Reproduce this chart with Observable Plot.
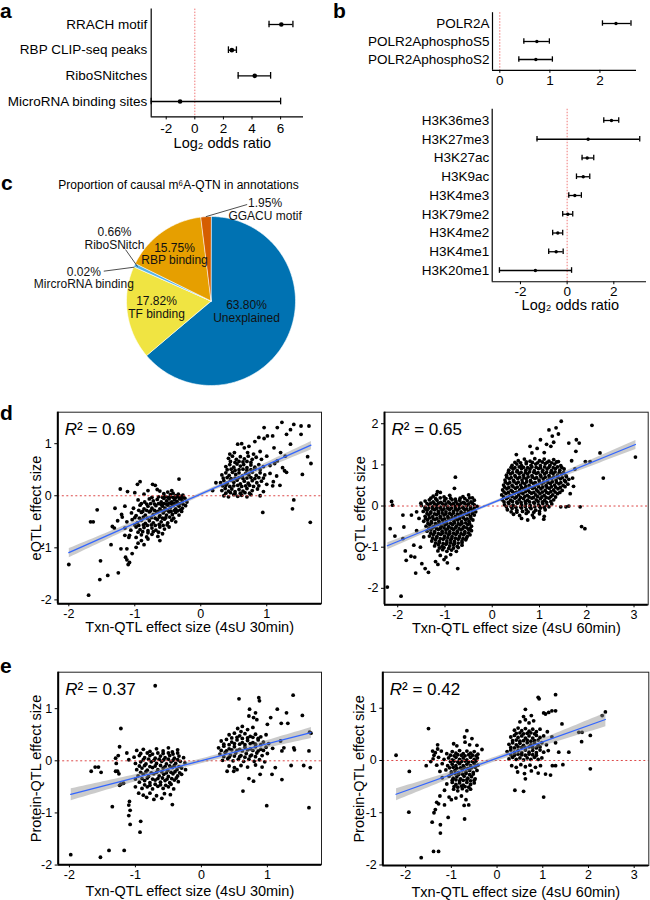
<!DOCTYPE html>
<html><head><meta charset="utf-8">
<script src="https://cdn.jsdelivr.net/npm/d3@7"></script>
<script src="https://cdn.jsdelivr.net/npm/@observablehq/plot@0.6"></script>
<style>
body{margin:0;background:#fff;}
#fig{position:relative;width:650px;height:900px;overflow:hidden;font-family:"Liberation Sans",Arial,sans-serif;}
.p{position:absolute;}
.lt{position:absolute;font-weight:bold;font-size:21px;line-height:21px;color:#000;}
</style></head><body><div id="fig"></div>
<script>
// ---------------- DATA ----------------
const aLabels = ["RRACH motif","RBP CLIP-seq peaks","RiboSNitches","MicroRNA binding sites"];
const aEst  = [6.05, 2.59, 4.19, -1.03];
const aLow  = [5.19, 2.35, 3.03, -3.05];
const aHigh = [6.86, 2.91, 5.30, 6.00];

const bPolLabels = ["POLR2A","POLR2AphosphoS5","POLR2AphosphoS2"];
const bPolEst  = [2.32, 0.74, 0.72];
const bPolLow  = [2.05, 0.48, 0.38];
const bPolHigh = [2.62, 0.99, 1.05];

const bHisLabels = ["H3K36me3","H3K27me3","H3K27ac","H3K9ac","H3K4me3","H3K79me2","H3K4me2","H3K4me1","H3K20me1"];
const bHisEst  = [1.90, 0.90, 0.86, 0.69, 0.33, 0.03, -0.40, -0.47, -1.36];
const bHisLow  = [1.57, -1.29, 0.64, 0.40, 0.07, -0.19, -0.62, -0.79, -2.90];
const bHisHigh = [2.21, 3.11, 1.14, 0.97, 0.61, 0.24, -0.19, -0.17, 0.19];

const pieTitle = "Proportion of causal m\u2076A-QTN in annotations";
const pieLabels = ["Unexplained","TF binding","MircroRNA binding","RiboSNitch","RBP binding","GGACU motif"];
const piePct = [63.80, 17.82, 0.02, 0.66, 15.75, 1.95];

const r2Values = {dLeft: "0.69", dRight: "0.65", eLeft: "0.37", eRight: "0.42"};

const dLeftPts = [
[-2.0,-1.32],[-1.7,-1.91],[-1.53,-1.61],[-1.41,-1.53],[-1.25,-1.48],[-1.52,-1.25],[-1.67,-0.5],[-1.63,-0.5],[-1.57,-0.27],[-1.36,-0.94],[-1.21,-1.02],[-1.22,0.13],[-1.11,0.08],[-0.92,0.27],[-0.96,0.22],[-0.73,0.22],[-0.69,0.2],[-0.33,0.32],
[-1.3,-0.24],[-1.26,-0.48],[-1.34,-0.59],[-1.19,-0.41],[-1.31,-0.62],[-1.15,-0.76],[-1.09,-0.8],[-0.98,-0.99],[-1.04,-1.11],[-1.12,-1.02],[-1.14,-1.18],[-1.12,-1.23],[-1.1,-1.32],[-1.08,-1.28],[-0.95,-0.91],[-0.9,-0.86],[-0.86,-0.94],[-0.8,-0.83],[-0.62,-0.86],
[-1.0,0.06],[-0.86,0.03],[-0.8,0.1],[-0.62,0.09],[-0.56,0.04],[-0.5,0.07],[-0.46,0.02],[-0.42,0.05],[-0.38,0.0],[-0.34,0.03],[-0.3,-0.01],[-0.27,0.01],[-0.66,0.12],[-0.44,0.1],
[-0.95,-0.08],[-0.85,-0.12],[-0.78,-0.06],[-0.72,-0.1],[-0.66,-0.07],[-0.6,-0.12],[-0.56,-0.05],[-0.52,-0.1],[-0.48,-0.06],[-0.44,-0.12],[-0.4,-0.08],[-0.36,-0.11],[-0.32,-0.06],[-0.28,-0.1],[-0.24,-0.05],[-0.21,-0.12],
[-1.15,-0.2],[-1.02,-0.24],[-0.92,-0.18],[-0.86,-0.25],[-0.8,-0.2],[-0.74,-0.24],[-0.68,-0.19],[-0.62,-0.25],[-0.58,-0.2],[-0.54,-0.24],[-0.5,-0.18],[-0.46,-0.23],[-0.42,-0.19],[-0.38,-0.25],[-0.33,-0.2],[-0.28,-0.24],[-0.23,-0.19],
[-1.2,-0.36],[-1.05,-0.33],[-0.98,-0.38],[-0.9,-0.32],[-0.84,-0.37],[-0.78,-0.31],[-0.72,-0.36],[-0.67,-0.32],[-0.62,-0.38],[-0.57,-0.33],[-0.52,-0.37],[-0.48,-0.31],[-0.43,-0.36],[-0.38,-0.32],[-0.33,-0.37],[-0.29,-0.3],
[-1.12,-0.5],[-1.04,-0.46],[-0.96,-0.52],[-0.9,-0.47],[-0.84,-0.53],[-0.78,-0.48],[-0.72,-0.52],[-0.66,-0.46],[-0.6,-0.5],[-0.55,-0.45],[-0.5,-0.52],[-0.44,-0.47],[-0.38,-0.5],
[-1.15,-0.62],[-1.06,-0.66],[-0.98,-0.6],[-0.92,-0.65],[-0.86,-0.61],[-0.8,-0.67],[-0.74,-0.62],[-0.68,-0.66],[-0.62,-0.6],[-0.55,-0.64],[-0.48,-0.6],
[-1.08,-0.76],[-0.98,-0.8],[-0.9,-0.75],[-0.82,-0.79],[-0.74,-0.74],[-0.65,-0.78],[-0.58,-0.73],
[-0.74,-0.03],[-0.64,-0.02],[-0.58,-0.03],[-0.54,-0.01],[-0.5,-0.03],[-0.46,-0.02],[-0.42,-0.03],[-0.38,-0.04],[-0.34,-0.02],[-0.3,-0.05],[-0.26,-0.03],
[-0.9,-0.15],[-0.82,-0.16],[-0.76,-0.15],[-0.7,-0.16],[-0.64,-0.15],[-0.6,-0.17],[-0.56,-0.15],[-0.52,-0.16],[-0.48,-0.14],[-0.44,-0.16],[-0.4,-0.15],[-0.36,-0.17],[-0.32,-0.15],[-0.27,-0.16],
[-0.94,-0.28],[-0.88,-0.3],[-0.82,-0.28],[-0.76,-0.29],[-0.7,-0.28],[-0.65,-0.3],[-0.6,-0.28],[-0.55,-0.29],[-0.5,-0.28],[-0.45,-0.3],[-0.4,-0.28],[-0.35,-0.29],[-0.31,-0.27],
[-1.0,-0.42],[-0.93,-0.43],[-0.87,-0.41],[-0.81,-0.43],[-0.75,-0.42],[-0.69,-0.43],[-0.63,-0.41],[-0.58,-0.43],[-0.53,-0.42],[-0.47,-0.41],[-0.41,-0.43],
[-1.0,-0.56],[-0.94,-0.57],[-0.87,-0.56],[-0.81,-0.57],[-0.75,-0.56],[-0.69,-0.57],[-0.63,-0.55],[-0.57,-0.57],[-0.51,-0.56],
[-0.95,-0.7],[-0.88,-0.69],[-0.8,-0.71],[-0.72,-0.69],[-0.64,-0.7],
[0.56,0.99],[0.66,0.92],[0.73,0.95],[0.82,1.04],[0.9,0.85],[0.8,0.8],[0.71,0.83],[0.51,0.83],[0.44,0.8],[0.62,1.0],[0.96,1.1],
[0.42,0.72],[0.48,0.76],[0.54,0.7],[0.6,0.75],[0.66,0.71],[0.72,0.76],[0.78,0.7],[0.84,0.74],[0.92,0.7],[1.0,0.76],
[0.38,0.56],[0.44,0.6],[0.5,0.55],[0.55,0.61],[0.6,0.57],[0.65,0.6],[0.7,0.54],[0.76,0.59],[0.82,0.55],[0.88,0.6],[0.95,0.56],[1.05,0.58],[1.12,0.62],
[0.32,0.4],[0.38,0.44],[0.43,0.39],[0.48,0.45],[0.53,0.41],[0.58,0.44],[0.63,0.38],[0.68,0.43],[0.73,0.4],[0.78,0.45],[0.84,0.39],[0.9,0.44],[0.97,0.4],[1.05,0.43],[1.15,0.38],
[0.3,0.25],[0.35,0.29],[0.4,0.24],[0.45,0.3],[0.5,0.26],[0.55,0.3],[0.6,0.23],[0.66,0.28],[0.72,0.24],[0.78,0.29],[0.85,0.25],[0.92,0.28],[1.0,0.22],[1.1,0.27],
[0.32,0.1],[0.37,0.14],[0.42,0.09],[0.47,0.13],[0.52,0.08],[0.58,0.12],[0.64,0.09],[0.7,0.14],[0.78,0.1],[0.86,0.13],[0.95,0.08],[1.09,0.19],
[0.35,0.0],[0.42,-0.02],[0.5,0.02],[0.56,-0.01],[0.62,0.01],[0.7,-0.02],[0.76,0.02],[0.9,0.0],
[0.4,0.5],[0.46,0.51],[0.52,0.49],[0.58,0.5],[0.64,0.51],[0.7,0.49],[0.76,0.5],[0.82,0.51],[0.9,0.5],
[0.34,0.34],[0.4,0.35],[0.46,0.33],[0.52,0.34],[0.58,0.35],[0.64,0.33],[0.7,0.34],[0.76,0.35],[0.82,0.33],[0.88,0.35],[0.95,0.34],
[0.33,0.19],[0.38,0.2],[0.44,0.18],[0.5,0.19],[0.56,0.2],[0.62,0.18],[0.68,0.19],[0.74,0.2],[0.8,0.18],[0.88,0.19],
[0.38,0.05],[0.45,0.06],[0.52,0.04],[0.6,0.05],[0.67,0.06],[0.74,0.05],
[0.45,0.66],[0.52,0.64],[0.58,0.66],[0.64,0.65],[0.7,0.66],[0.76,0.64],
[1.24,0.54],[1.27,0.48],[1.16,0.67],[1.21,0.83],[1.11,0.92],[1.28,0.76],[1.36,0.99],[1.54,0.41],[1.67,0.62],[1.62,0.75],[1.41,-0.08],[1.39,-0.25],[1.66,-0.51],[0.94,-0.32],[1.52,1.18],[1.64,1.34],[1.52,1.34],[1.3,1.18],[1.16,1.31],[0.96,1.31],[1.36,1.27],[1.41,1.37],[1.09,1.15],[1.01,1.15],[0.23,0.25],[0.18,0.1],[1.23,1.41],[0.88,1.12],[1.2,0.2],[1.3,0.45]
];

const dRightPts = [
[-2.22,-1.97],[-1.93,-2.19],[-2.16,-0.55],[-2.06,-0.73],[-2.13,0.11],[-2.11,0.02],[-1.89,-0.22],[-1.87,-0.51],[-1.89,-0.79],[-1.84,-1.09],[-1.64,-1.24],[-1.62,-1.63],[-1.66,-0.95],[-1.72,-1.22],[-1.82,-1.32],[-1.42,-1.52],[-1.35,-1.61],[-1.49,-1.4],[-1.71,-0.22],[-1.6,-0.14],[-1.51,0.07],[-0.73,-1.52],[-0.78,0.7],[-0.8,0.43],[-1.16,0.35],[-1.1,0.33],[-1.55,-0.3],[-1.6,-0.6],[-1.45,-0.75],[-1.52,-1.0],
[-1.25,0.24],[-1.18,0.28],[-1.02,0.22],[-0.9,0.26],[-0.62,0.23],[-0.5,0.27],[-0.42,0.2],
[-1.3,0.19],[-1.2,0.18],[-1.1,0.2],[-0.98,0.18],[-0.88,0.19],[-0.78,0.17],[-0.68,0.19],[-0.58,0.18],[-0.48,0.2],
[-1.42,0.12],[-1.33,0.15],[-1.25,0.1],[-1.17,0.14],[-1.09,0.09],[-1.01,0.13],[-0.93,0.1],[-0.85,0.15],[-0.77,0.11],[-0.69,0.14],[-0.61,0.09],[-0.53,0.13],[-0.45,0.1],[-0.38,0.14],
[-1.38,0.06],[-1.3,0.07],[-1.22,0.05],[-1.14,0.07],[-1.06,0.06],[-0.98,0.05],[-0.9,0.07],[-0.82,0.06],[-0.74,0.05],[-0.66,0.07],[-0.58,0.06],[-0.5,0.05],[-0.42,0.07],
[-1.5,0.01],[-1.42,-0.03],[-1.34,0.03],[-1.26,-0.02],[-1.18,0.02],[-1.1,-0.03],[-1.02,0.01],[-0.94,-0.02],[-0.86,0.03],[-0.78,-0.01],[-0.7,0.02],[-0.62,-0.03],[-0.54,0.01],[-0.46,-0.02],[-0.38,0.03],[-0.32,-0.01],
[-1.42,-0.06],[-1.34,-0.05],[-1.26,-0.07],[-1.18,-0.06],[-1.1,-0.05],[-1.02,-0.07],[-0.94,-0.06],[-0.86,-0.05],[-0.78,-0.07],[-0.7,-0.06],[-0.62,-0.05],[-0.54,-0.07],[-0.46,-0.06],[-0.38,-0.05],
[-1.46,-0.13],[-1.38,-0.1],[-1.3,-0.14],[-1.22,-0.09],[-1.14,-0.13],[-1.06,-0.1],[-0.98,-0.14],[-0.9,-0.09],[-0.82,-0.13],[-0.74,-0.1],[-0.66,-0.14],[-0.58,-0.09],[-0.5,-0.13],[-0.42,-0.1],[-0.35,-0.14],
[-1.38,-0.18],[-1.3,-0.17],[-1.22,-0.19],[-1.14,-0.18],[-1.06,-0.17],[-0.98,-0.19],[-0.9,-0.18],[-0.82,-0.17],[-0.74,-0.19],[-0.66,-0.18],[-0.58,-0.17],[-0.5,-0.19],[-0.42,-0.18],
[-1.42,-0.25],[-1.34,-0.22],[-1.26,-0.26],[-1.18,-0.21],[-1.1,-0.25],[-1.02,-0.22],[-0.94,-0.26],[-0.86,-0.21],[-0.78,-0.25],[-0.7,-0.22],[-0.62,-0.26],[-0.54,-0.21],[-0.46,-0.25],[-0.38,-0.22],
[-1.41,-0.3],[-1.33,-0.29],[-1.25,-0.31],[-1.17,-0.3],[-1.09,-0.29],[-1.01,-0.31],[-0.93,-0.3],[-0.85,-0.29],[-0.77,-0.31],[-0.69,-0.3],[-0.61,-0.29],[-0.53,-0.31],[-0.45,-0.3],
[-1.45,-0.37],[-1.37,-0.34],[-1.29,-0.38],[-1.21,-0.33],[-1.13,-0.37],[-1.05,-0.34],[-0.97,-0.38],[-0.89,-0.33],[-0.81,-0.37],[-0.73,-0.34],[-0.65,-0.38],[-0.57,-0.33],[-0.49,-0.37],[-0.41,-0.34],
[-1.36,-0.42],[-1.28,-0.41],[-1.2,-0.43],[-1.12,-0.42],[-1.04,-0.41],[-0.96,-0.43],[-0.88,-0.42],[-0.8,-0.41],[-0.72,-0.43],[-0.64,-0.42],[-0.56,-0.41],[-0.48,-0.43],
[-1.4,-0.49],[-1.32,-0.46],[-1.24,-0.5],[-1.16,-0.45],[-1.08,-0.49],[-1.0,-0.46],[-0.92,-0.5],[-0.84,-0.45],[-0.76,-0.49],[-0.68,-0.46],[-0.6,-0.5],[-0.52,-0.45],[-0.44,-0.49],
[-1.34,-0.54],[-1.26,-0.53],[-1.18,-0.55],[-1.1,-0.54],[-1.02,-0.53],[-0.94,-0.55],[-0.86,-0.54],[-0.78,-0.53],[-0.7,-0.55],[-0.62,-0.54],[-0.54,-0.53],[-0.47,-0.55],
[-1.38,-0.61],[-1.3,-0.58],[-1.22,-0.62],[-1.14,-0.57],[-1.06,-0.61],[-0.98,-0.58],[-0.9,-0.62],[-0.82,-0.57],[-0.74,-0.61],[-0.66,-0.58],[-0.58,-0.62],[-0.5,-0.57],[-0.44,-0.6],
[-1.3,-0.66],[-1.22,-0.65],[-1.14,-0.67],[-1.06,-0.66],[-0.98,-0.65],[-0.9,-0.67],[-0.82,-0.66],[-0.74,-0.65],[-0.66,-0.67],[-0.58,-0.66],[-0.5,-0.65],
[-1.33,-0.73],[-1.25,-0.7],[-1.17,-0.74],[-1.09,-0.69],[-1.01,-0.73],[-0.93,-0.7],[-0.85,-0.74],[-0.77,-0.69],[-0.69,-0.73],[-0.61,-0.7],[-0.53,-0.74],[-0.47,-0.7],
[-1.26,-0.78],[-1.18,-0.77],[-1.1,-0.79],[-1.02,-0.78],[-0.94,-0.77],[-0.86,-0.79],[-0.78,-0.78],[-0.7,-0.77],[-0.62,-0.79],[-0.55,-0.78],
[-1.28,-0.85],[-1.2,-0.82],[-1.12,-0.86],[-1.04,-0.81],[-0.96,-0.85],[-0.88,-0.82],[-0.8,-0.86],[-0.72,-0.81],[-0.64,-0.85],[-0.56,-0.82],
[-1.2,-0.9],[-1.12,-0.89],[-1.04,-0.91],[-0.96,-0.9],[-0.88,-0.89],[-0.8,-0.91],[-0.72,-0.9],[-0.64,-0.89],
[-1.22,-0.97],[-1.14,-0.94],[-1.06,-0.98],[-0.98,-0.93],[-0.9,-0.97],[-0.82,-0.94],[-0.74,-0.98],[-0.64,-0.95],
[-1.12,-1.02],[-1.02,-1.01],[-0.92,-1.03],[-0.82,-1.02],[-0.72,-1.01],
[-1.15,-1.09],[-1.05,-1.06],[-0.96,-1.1],[-0.86,-1.07],[-0.76,-1.1],
[-1.1,-1.2],[-0.98,-1.24],[-0.88,-1.18],[-1.02,-1.3],[-1.2,-1.35],[-1.15,-1.42],[-0.95,-1.38],
[1.46,2.06],[1.35,1.9],[1.27,1.7],[1.24,1.45],[1.1,1.3],[1.02,1.61],[0.84,1.29],[0.51,1.25],[0.8,1.45],[1.3,1.55],[1.2,1.85],[1.4,1.75],[1.15,1.5],[0.95,1.4],
[0.55,1.1],[0.68,1.14],[0.8,1.09],[0.9,1.15],[1.0,1.1],[1.1,1.14],[1.2,1.09],[1.3,1.13],[1.4,1.08],
[0.48,1.06],[0.6,1.05],[0.72,1.07],[0.85,1.06],[0.96,1.05],[1.06,1.07],[1.16,1.06],[1.26,1.05],[1.36,1.07],
[0.42,0.99],[0.52,1.02],[0.62,0.98],[0.72,1.03],[0.82,0.99],[0.92,1.02],[1.02,0.98],[1.12,1.03],[1.22,0.99],[1.32,1.02],[1.45,0.98],
[0.4,0.94],[0.48,0.93],[0.57,0.95],[0.66,0.94],[0.75,0.93],[0.84,0.95],[0.93,0.94],[1.02,0.93],[1.11,0.95],[1.2,0.94],[1.29,0.93],[1.38,0.95],[1.47,0.94],
[0.35,0.87],[0.44,0.9],[0.53,0.86],[0.62,0.91],[0.71,0.87],[0.8,0.9],[0.89,0.86],[0.98,0.91],[1.07,0.87],[1.16,0.9],[1.25,0.86],[1.34,0.91],[1.43,0.87],[1.52,0.9],
[0.34,0.82],[0.43,0.81],[0.52,0.83],[0.61,0.82],[0.7,0.81],[0.79,0.83],[0.88,0.82],[0.97,0.81],[1.06,0.83],[1.15,0.82],[1.24,0.81],[1.33,0.83],[1.42,0.82],[1.51,0.81],
[0.3,0.75],[0.39,0.78],[0.48,0.74],[0.57,0.79],[0.66,0.75],[0.75,0.78],[0.84,0.74],[0.93,0.79],[1.02,0.75],[1.11,0.78],[1.2,0.74],[1.29,0.79],[1.38,0.75],[1.47,0.78],[1.56,0.74],
[0.31,0.7],[0.4,0.69],[0.49,0.71],[0.58,0.7],[0.67,0.69],[0.76,0.71],[0.85,0.7],[0.94,0.69],[1.03,0.71],[1.12,0.7],[1.21,0.69],[1.3,0.71],[1.39,0.7],[1.48,0.69],[1.57,0.71],
[0.27,0.63],[0.36,0.66],[0.45,0.62],[0.54,0.67],[0.63,0.63],[0.72,0.66],[0.81,0.62],[0.9,0.67],[0.99,0.63],[1.08,0.66],[1.17,0.62],[1.26,0.67],[1.35,0.63],[1.44,0.66],[1.53,0.62],[1.62,0.65],
[0.28,0.58],[0.37,0.57],[0.46,0.59],[0.55,0.58],[0.64,0.57],[0.73,0.59],[0.82,0.58],[0.91,0.57],[1.0,0.59],[1.09,0.58],[1.18,0.57],[1.27,0.59],[1.36,0.58],[1.45,0.57],[1.55,0.59],
[0.24,0.51],[0.33,0.54],[0.42,0.5],[0.51,0.55],[0.6,0.51],[0.69,0.54],[0.78,0.5],[0.87,0.55],[0.96,0.51],[1.05,0.54],[1.14,0.5],[1.23,0.55],[1.32,0.51],[1.41,0.54],[1.5,0.5],[1.6,0.53],
[0.26,0.46],[0.35,0.45],[0.44,0.47],[0.53,0.46],[0.62,0.45],[0.71,0.47],[0.8,0.46],[0.89,0.45],[0.98,0.47],[1.07,0.46],[1.16,0.45],[1.25,0.47],[1.34,0.46],[1.44,0.45],[1.54,0.47],
[0.22,0.39],[0.31,0.42],[0.4,0.38],[0.49,0.43],[0.58,0.39],[0.67,0.42],[0.76,0.38],[0.85,0.43],[0.94,0.39],[1.03,0.42],[1.12,0.38],[1.21,0.43],[1.3,0.39],[1.39,0.42],[1.48,0.38],
[0.25,0.34],[0.34,0.33],[0.43,0.35],[0.52,0.34],[0.61,0.33],[0.7,0.35],[0.79,0.34],[0.88,0.33],[0.97,0.35],[1.06,0.34],[1.15,0.33],[1.24,0.35],[1.33,0.34],[1.43,0.33],
[0.2,0.27],[0.29,0.3],[0.38,0.26],[0.47,0.31],[0.56,0.27],[0.65,0.3],[0.74,0.26],[0.83,0.31],[0.92,0.27],[1.01,0.3],[1.1,0.26],[1.19,0.31],[1.28,0.27],[1.38,0.3],
[0.24,0.22],[0.33,0.21],[0.42,0.23],[0.51,0.22],[0.6,0.21],[0.69,0.23],[0.78,0.22],[0.87,0.21],[0.96,0.23],[1.05,0.22],[1.14,0.21],[1.24,0.23],[1.34,0.22],
[0.21,0.15],[0.3,0.18],[0.39,0.14],[0.48,0.19],[0.57,0.15],[0.66,0.18],[0.75,0.14],[0.84,0.19],[0.93,0.15],[1.02,0.18],[1.11,0.14],[1.2,0.19],[1.3,0.15],
[0.25,0.1],[0.34,0.09],[0.43,0.11],[0.52,0.1],[0.61,0.09],[0.7,0.11],[0.79,0.1],[0.88,0.09],[0.97,0.11],[1.06,0.1],[1.15,0.09],[1.24,0.11],
[0.26,0.03],[0.35,0.06],[0.44,0.02],[0.53,0.07],[0.62,0.03],[0.71,0.06],[0.8,0.02],[0.89,0.07],[0.98,0.03],[1.07,0.06],[1.16,0.02],[1.26,0.05],
[0.3,-0.02],[0.4,-0.01],[0.5,-0.03],[0.6,-0.02],[0.7,-0.01],[0.8,-0.03],[0.9,-0.02],[1.0,-0.01],[1.1,-0.03],[1.2,-0.02],
[0.32,-0.09],[0.42,-0.06],[0.52,-0.1],[0.62,-0.05],[0.72,-0.09],[0.82,-0.06],[0.92,-0.1],[1.02,-0.05],[1.12,-0.09],
[0.4,-0.14],[0.52,-0.15],[0.64,-0.13],[0.76,-0.14],[0.88,-0.15],[1.0,-0.13],
[0.45,-0.2],[0.58,-0.23],[0.72,-0.18],[0.85,-0.22],[1.0,-0.19],[1.1,-0.25],
[0.62,-0.3],[0.88,-0.28],[1.09,-0.32],[0.75,-0.34],
[1.62,1.53],[1.78,1.61],[1.84,1.53],[1.77,1.33],[2.11,1.96],[2.07,1.08],[1.97,1.08],[2.28,1.29],[2.35,0.68],[3.03,1.19],[1.86,-0.02],[1.89,-0.5],[1.96,-0.55],[1.7,0.68],[1.72,0.48],[1.65,0.3],[1.62,0.0],[1.45,-0.02],[1.56,-0.02],[1.75,0.9],[1.68,1.1]
];

const eLeftPts = [
[-1.98,-1.8],[-1.53,-1.85],[-1.4,-1.72],[-1.17,-1.72],[-1.35,-0.88],[-1.22,0.62],[-1.67,-0.2],[-1.61,-0.12],[-1.56,-0.12],[-1.52,-0.22],[-1.24,0.27],[-0.7,1.44],[-1.08,-1.22],[-0.92,-1.16],[-0.93,-1.37],[-1.1,-1.05],[-1.08,-0.95],[-1.1,-0.85],[-1.09,-0.78],[-1.26,0.1],[-1.3,0.05],[-1.29,-0.05],[-1.27,-0.2],[-1.25,-0.25],[-1.3,-0.2],[-1.22,-0.45],[-1.18,-0.43],[-1.24,-0.47],[-1.13,0.15],[-1.1,0.02],
[-0.98,0.2],[-0.88,0.22],[-0.78,0.18],[-0.68,0.23],[-0.58,0.19],[-0.5,0.25],[-0.44,0.17],[-0.36,0.21],
[-0.92,0.14],[-0.82,0.15],[-0.74,0.13],[-0.66,0.15],[-0.58,0.14],[-0.5,0.15],[-0.43,0.13],[-0.36,0.15],
[-1.02,0.07],[-0.94,0.1],[-0.86,0.06],[-0.78,0.1],[-0.7,0.05],[-0.62,0.09],[-0.55,0.06],[-0.48,0.1],[-0.41,0.05],[-0.34,0.09],[-0.27,0.06],
[-0.88,0.02],[-0.8,0.03],[-0.72,0.01],[-0.64,0.03],[-0.57,0.02],[-0.5,0.03],[-0.43,0.01],[-0.36,0.02],
[-1.0,-0.05],[-0.92,-0.02],[-0.84,-0.06],[-0.76,-0.02],[-0.68,-0.05],[-0.6,-0.01],[-0.53,-0.06],[-0.46,-0.02],[-0.39,-0.05],[-0.32,-0.01],[-0.25,-0.04],
[-0.94,-0.1],[-0.86,-0.09],[-0.78,-0.11],[-0.7,-0.1],[-0.62,-0.09],[-0.55,-0.11],[-0.48,-0.1],[-0.41,-0.09],[-0.34,-0.11],
[-0.98,-0.17],[-0.9,-0.14],[-0.82,-0.18],[-0.74,-0.13],[-0.66,-0.17],[-0.58,-0.14],[-0.51,-0.18],[-0.44,-0.13],[-0.37,-0.17],[-0.3,-0.14],[-0.24,-0.17],
[-0.92,-0.22],[-0.84,-0.21],[-0.76,-0.23],[-0.68,-0.22],[-0.6,-0.21],[-0.53,-0.23],[-0.46,-0.22],[-0.4,-0.21],[-0.33,-0.23],
[-0.96,-0.29],[-0.88,-0.26],[-0.8,-0.3],[-0.72,-0.25],[-0.64,-0.29],[-0.57,-0.26],[-0.5,-0.3],[-0.43,-0.25],[-0.36,-0.29],[-0.3,-0.26],
[-0.9,-0.34],[-0.82,-0.33],[-0.74,-0.35],[-0.66,-0.34],[-0.59,-0.33],[-0.52,-0.35],[-0.45,-0.34],[-0.38,-0.33],
[-0.94,-0.41],[-0.86,-0.38],[-0.78,-0.42],[-0.7,-0.37],[-0.62,-0.41],[-0.55,-0.38],[-0.48,-0.42],[-0.41,-0.37],[-0.35,-0.4],
[-0.86,-0.46],[-0.78,-0.47],[-0.7,-0.45],[-0.62,-0.46],[-0.54,-0.47],[-0.46,-0.45],
[-0.9,-0.53],[-0.82,-0.5],[-0.74,-0.54],[-0.66,-0.49],[-0.58,-0.53],[-0.5,-0.5],[-0.42,-0.54],
[-0.88,-0.66],[-0.78,-0.62],[-0.68,-0.67],[-0.56,-0.63],[-0.44,-0.84],[-0.47,-0.65],[-0.6,-0.72],[-0.72,-0.74],[-0.83,-0.7],[-0.95,-0.62],[-1.0,-0.5],[-1.0,-0.35],
[0.57,1.19],[0.87,1.21],[0.88,1.15],[0.79,0.83],[0.72,0.86],[0.82,0.92],[0.84,0.79],[0.73,0.99],[1.05,0.83],[1.15,0.99],[1.29,0.92],[1.21,0.72],[1.31,0.72],[1.39,1.26],[1.53,0.87],[1.64,0.55],[1.66,0.53],[1.4,0.25],[1.41,0.21],[1.25,0.25],[1.22,0.19],[1.2,0.38],[1.63,0.19],[1.65,-0.13],[1.55,-0.09],[1.36,-0.09],[1.63,-0.9],[0.99,-0.86],[0.63,-0.58],[0.72,-0.34],[0.79,-0.39],[0.89,-0.26],[1.07,-0.26],[1.12,-0.13],[1.22,-0.36],[0.49,-0.2],[0.39,-0.2],[0.54,-0.17],[1.0,0.7],
[0.55,0.62],[0.62,0.66],[0.7,0.6],[0.78,0.64],[0.6,0.56],
[0.42,0.5],[0.5,0.53],[0.58,0.48],[0.66,0.52],[0.74,0.47],[0.82,0.51],[0.9,0.46],[0.98,0.5],
[0.46,0.44],[0.54,0.45],[0.62,0.43],[0.7,0.44],[0.78,0.45],[0.86,0.43],
[0.3,0.38],[0.38,0.41],[0.46,0.36],[0.54,0.4],[0.62,0.35],[0.7,0.39],[0.78,0.35],[0.86,0.4],[0.94,0.36],[1.02,0.33],
[0.34,0.32],[0.42,0.31],[0.5,0.33],[0.58,0.32],[0.66,0.31],[0.74,0.33],[0.82,0.32],[0.9,0.31],
[0.26,0.25],[0.34,0.28],[0.42,0.23],[0.5,0.27],[0.58,0.22],[0.66,0.26],[0.74,0.23],[0.82,0.27],[0.9,0.22],[0.98,0.26],[1.08,0.24],
[0.3,0.2],[0.38,0.19],[0.46,0.21],[0.54,0.2],[0.62,0.19],[0.7,0.21],[0.78,0.2],[0.86,0.19],[0.94,0.2],
[0.28,0.13],[0.36,0.16],[0.44,0.11],[0.52,0.15],[0.6,0.1],[0.68,0.14],[0.76,0.11],[0.84,0.15],[0.92,0.1],[1.0,0.14],
[0.34,0.08],[0.42,0.07],[0.5,0.09],[0.58,0.08],[0.66,0.07],[0.74,0.09],[0.82,0.08],
[0.32,0.01],[0.4,0.04],[0.48,0.0],[0.56,0.03],[0.64,-0.01],[0.72,0.03],[0.8,-0.01],[0.88,0.02],[0.96,-0.02],
[0.42,-0.1],[0.5,-0.13],[0.6,-0.09],[0.7,-0.12],[0.82,-0.08],[0.92,-0.12]
];

const eRightPts = [
[-2.21,0.1],[-1.92,-0.21],[-1.93,-0.99],[-1.66,-1.86],[-1.5,0.61],[-1.39,-1.74],[-1.28,-1.74],[-1.24,-1.39],[-1.24,-1.23],[-1.42,-1.18],[-1.07,-1.09],[-0.71,-1.12],[-0.66,0.57],[-0.44,0.29],[-0.33,0.21],[-1.35,-0.94],[-1.38,-1.0],[-1.28,-0.83],[-1.32,-0.8],[-1.25,-0.68],[-1.15,-0.85],[-1.0,-0.75],[-1.55,-0.1],[-1.45,-0.02],[-1.38,0.1],[-1.41,0.18],[-1.3,0.22],
[-1.3,0.3],[-0.95,0.32],[-0.88,0.28],[-0.7,0.35],[-0.6,0.3],[-0.55,0.42],[-0.71,0.45],
[-1.35,0.15],[-1.22,0.18],[-1.1,0.13],[-0.98,0.17],[-0.9,0.14],[-0.82,0.19],[-0.74,0.13],[-0.66,0.18],[-0.58,0.14],[-0.5,0.17],[-0.42,0.12],
[-1.02,0.1],[-0.94,0.09],[-0.86,0.11],[-0.78,0.1],[-0.7,0.09],[-0.62,0.11],[-0.54,0.1],[-0.46,0.09],
[-1.4,0.03],[-1.28,0.06],[-1.16,0.02],[-1.06,0.05],[-0.98,0.01],[-0.9,0.06],[-0.82,0.02],[-0.74,0.05],[-0.66,0.01],[-0.58,0.06],[-0.5,0.02],[-0.43,0.05],
[-1.02,-0.02],[-0.94,-0.01],[-0.86,-0.03],[-0.78,-0.02],[-0.7,-0.01],[-0.62,-0.03],[-0.54,-0.02],[-0.46,-0.01],
[-1.32,-0.09],[-1.2,-0.06],[-1.08,-0.1],[-0.98,-0.07],[-0.9,-0.1],[-0.82,-0.06],[-0.74,-0.1],[-0.66,-0.07],[-0.58,-0.1],[-0.5,-0.06],[-0.42,-0.09],
[-1.04,-0.14],[-0.96,-0.13],[-0.88,-0.15],[-0.8,-0.14],[-0.72,-0.13],[-0.64,-0.15],[-0.56,-0.14],[-0.48,-0.13],
[-1.25,-0.21],[-1.12,-0.18],[-1.0,-0.22],[-0.92,-0.19],[-0.84,-0.23],[-0.76,-0.18],[-0.68,-0.22],[-0.6,-0.19],[-0.52,-0.23],[-0.44,-0.19],
[-1.0,-0.26],[-0.92,-0.25],[-0.84,-0.27],[-0.76,-0.26],[-0.68,-0.25],[-0.6,-0.27],[-0.52,-0.26],
[-1.2,-0.33],[-1.05,-0.3],[-0.96,-0.34],[-0.88,-0.31],[-0.8,-0.35],[-0.72,-0.3],[-0.64,-0.34],[-0.56,-0.31],[-0.48,-0.35],
[-0.98,-0.38],[-0.9,-0.37],[-0.82,-0.39],[-0.74,-0.38],[-0.66,-0.37],[-0.58,-0.39],[-0.5,-0.38],
[-1.1,-0.45],[-0.98,-0.42],[-0.9,-0.46],[-0.82,-0.43],[-0.74,-0.47],[-0.66,-0.42],[-0.58,-0.46],[-0.5,-0.43],
[-0.94,-0.5],[-0.86,-0.51],[-0.78,-0.49],[-0.7,-0.5],[-0.62,-0.51],
[-1.15,-0.57],[-0.95,-0.55],[-0.86,-0.58],[-0.76,-0.54],[-0.66,-0.58],[-0.58,-0.55],
[-1.05,-0.7],[-0.9,-0.72],[-0.78,-0.68],[-0.68,-0.75],[-0.62,-0.85],[-0.72,-0.86],
[0.9,1.21],[0.92,1.18],[1.28,1.26],[0.62,0.98],[0.75,0.86],[1.02,0.91],[1.06,0.89],[1.13,0.92],[1.2,0.95],[1.28,0.95],[1.42,0.7],[2.37,0.93],[2.3,0.86],[1.86,0.54],[1.79,0.54],[2.04,0.48],[1.85,0.36],[2.04,-0.16],[1.44,-0.08],[1.28,-0.1],[1.21,-0.1],[1.06,-0.26],[1.17,-0.28],[1.02,-0.7],[0.62,-0.35],[0.39,-0.57],[0.58,-0.59],[1.35,0.16],[1.57,0.16],[1.28,0.34],[1.1,0.55],[1.2,0.45],
[0.5,0.74],[0.62,0.78],[0.7,0.72],[0.8,0.76],[0.58,0.84],
[0.38,0.58],[0.46,0.62],[0.54,0.57],[0.62,0.61],[0.7,0.56],[0.78,0.6],[0.86,0.55],[0.94,0.6],
[0.42,0.52],[0.5,0.53],[0.58,0.51],[0.66,0.52],[0.74,0.53],[0.82,0.51],
[0.3,0.45],[0.38,0.48],[0.46,0.44],[0.54,0.47],[0.62,0.43],[0.7,0.47],[0.78,0.43],[0.86,0.48],[0.94,0.44],[1.02,0.47],
[0.34,0.38],[0.42,0.39],[0.5,0.37],[0.58,0.38],[0.66,0.39],[0.74,0.37],[0.82,0.38],[0.9,0.39],
[0.26,0.31],[0.34,0.34],[0.42,0.3],[0.5,0.33],[0.58,0.29],[0.66,0.34],[0.74,0.3],[0.82,0.33],[0.9,0.29],[0.98,0.34],[1.08,0.3],
[0.3,0.25],[0.38,0.24],[0.46,0.26],[0.54,0.25],[0.62,0.24],[0.7,0.26],[0.78,0.25],[0.86,0.24],[0.94,0.26],
[0.22,0.17],[0.3,0.2],[0.38,0.16],[0.46,0.19],[0.54,0.15],[0.62,0.2],[0.7,0.16],[0.78,0.19],[0.86,0.15],[0.94,0.2],[1.02,0.16],[1.12,0.19],
[0.3,0.11],[0.38,0.1],[0.46,0.12],[0.54,0.11],[0.62,0.1],[0.7,0.12],[0.78,0.11],[0.86,0.1],
[0.26,0.03],[0.34,0.06],[0.42,0.02],[0.5,0.05],[0.58,0.01],[0.66,0.05],[0.74,0.02],[0.82,0.06],[0.9,0.02],[0.98,0.05],
[0.32,-0.1],[0.42,-0.13],[0.52,-0.08],[0.62,-0.12],[0.72,-0.09],[0.84,-0.13],[0.95,-0.1],
[0.45,-0.22],[0.6,-0.25],[0.75,-0.2],[0.9,-0.24]
];

// ---------------- STYLE / LAYOUT ----------------
const FONT = "Liberation Sans, Arial, Helvetica, sans-serif";
const pieColors = ["#0072B2","#F0E442","#009E73","#56B4E9","#E69F00","#D55E00"];
const fig = document.getElementById("fig");

function place(node, left, top, w) {
  const d = document.createElement("div");
  d.className = "p"; d.style.left = left + "px"; d.style.top = top + "px"; d.style.width = w + "px";
  d.appendChild(node); fig.appendChild(d);
}
function letter(ch, left, top) {
  const d = document.createElement("div");
  d.className = "lt"; d.style.left = left + "px"; d.style.top = top + "px"; d.textContent = ch;
  fig.appendChild(d);
}
const baseStyle = (fs) => ({fontFamily: FONT, fontSize: fs, color: "black", background: "transparent", overflow: "visible"});

function forest(o) {
  const rows = o.labels.map((label, i) => ({i, label, est: o.est[i], lo: o.lo[i], hi: o.hi[i]}));
  const n = rows.length;
  const yDom = [n - 1 + 0.6, -0.6];
  const cap = o.cap;
  const marks = [
    Plot.ruleX([0], {stroke: "#f07878", strokeDasharray: "1.5,1.5", strokeWidth: 1}),
    Plot.ruleY(rows, {y: "i", x1: "lo", x2: "hi", stroke: "black", strokeWidth: 1.3}),
    Plot.ruleX(rows, {x: "lo", y1: d => d.i - cap, y2: d => d.i + cap, stroke: "black", strokeWidth: 1.3}),
    Plot.ruleX(rows, {x: "hi", y1: d => d.i - cap, y2: d => d.i + cap, stroke: "black", strokeWidth: 1.3}),
    Plot.dot(rows, {x: "est", y: "i", r: o.r, fill: "black"}),
    Plot.ruleX([o.xDomain[0]], {stroke: "black", strokeWidth: 1.2}),
    Plot.ruleY([yDom[0]], {stroke: "black", strokeWidth: 1.2})
  ];
  if (o.title) marks.push(Plot.text([o.title], {text: d => d, frameAnchor: "bottom", lineAnchor: "middle", textAnchor: "middle", dy: o.titleDy, dx: o.titleDx || 0, fontSize: 14.5}));
  return Plot.plot({
    width: o.width, height: o.height,
    marginLeft: o.ml, marginRight: o.mr, marginTop: o.mt, marginBottom: o.mb,
    style: baseStyle("13.5px"),
    x: {domain: o.xDomain, ticks: o.xTicks, tickSize: 3, tickPadding: o.xPad, tickFormat: d => `${d}`, label: null},
    y: {domain: yDom, ticks: d3.range(n), tickFormat: i => o.labels[i], tickSize: 0, tickPadding: o.yPad, label: null},
    marks
  });
}

function scatter(o) {
  const data = o.pts.map(([x, y]) => ({x, y}));
  const svg = Plot.plot({
    width: o.width, height: o.height,
    marginLeft: o.ml, marginRight: o.mr, marginTop: o.mt, marginBottom: o.mb,
    style: baseStyle("12.5px"),
    x: {domain: o.xDomain, ticks: o.xTicks, tickSize: 3, tickPadding: 2, tickFormat: d => `${d}`, label: null},
    y: {domain: o.yDomain, ticks: o.yTicks, tickSize: 3, tickPadding: 3, tickFormat: d => `${d}`, label: null},
    marks: [
      Plot.dot(data, {x: "x", y: "y", r: 1.9, fill: "black"}),
      Plot.ruleY([0], {stroke: "#dd4a4a", strokeDasharray: "2,2.5", strokeWidth: 1}),
      Plot.linearRegressionY(data, {x: "x", y: "y", stroke: "#3366FF", strokeWidth: 1.3, fill: "#8c8c8c", fillOpacity: 0.45}),
      Plot.frame({stroke: "#222", strokeWidth: 1}),
      Plot.ruleX([o.xDomain[0]], {stroke: "black", strokeWidth: 2}),
      Plot.ruleY([o.yDomain[0]], {stroke: "black", strokeWidth: 2}),
      Plot.text([o.xLabel], {text: d => d, frameAnchor: "bottom", lineAnchor: "middle", textAnchor: "middle", dy: o.xTitleDy, fontSize: 14.5}),
      Plot.text([o.yLabel], {text: d => d, frameAnchor: "left", lineAnchor: "middle", textAnchor: "middle", rotate: -90, dx: o.yTitleDx, fontSize: 14.5}),
      Plot.text(["R\u00b2 = " + o.r2], {text: d => d, frameAnchor: "top-left", lineAnchor: "middle", textAnchor: "start", dx: 7, dy: 17, fontSize: 17})
    ]
  });
  svg.querySelectorAll("text").forEach(t => {
    if (t.textContent.startsWith("R\u00b2 =")) {
      const rest = t.textContent.slice(1);
      t.textContent = "";
      const ns = "http://www.w3.org/2000/svg";
      const a = document.createElementNS(ns, "tspan"); a.setAttribute("font-style", "italic"); a.textContent = "R";
      const b = document.createElementNS(ns, "tspan"); b.textContent = rest;
      t.append(a, b);
    }
  });
  return svg;
}

function pieChart() {
  const arcs = d3.pie().sort(null).value(d => d)(piePct);
  const marks = [];
  arcs.forEach((a, k) => {
    const pts = [{x: 0, y: 0}];
    const steps = Math.max(2, Math.ceil((a.endAngle - a.startAngle) / (Math.PI / 180)));
    for (let s = 0; s <= steps; s++) {
      const t = a.startAngle + (a.endAngle - a.startAngle) * s / steps;
      pts.push({x: Math.sin(t), y: Math.cos(t)});
    }
    marks.push(Plot.line(pts, {x: "x", y: "y", fill: pieColors[k], stroke: "white", strokeWidth: 0.6, curve: "linear-closed"}));
  });
  // label layout (unit-radius coordinates)
  const labelPos = {
    "Unexplained": [0.42, -0.117], "TF binding": [-0.645, -0.073], "RBP binding": [-0.432, 0.558],
    "RiboSNitch": [-1.142, 0.737], "MircroRNA binding": [-1.505, 0.274], "GGACU motif": [0.64, 1.08]
  };
  const leaderEnd = {"RiboSNitch": [-1.012, 0.609], "MircroRNA binding": [-1.269, 0.353], "GGACU motif": [0.428, 1.142]};
  const leaderR = {"RiboSNitch": 0.96, "MircroRNA binding": 0.99, "GGACU motif": 1.0};
  const labels = [], links = [];
  arcs.forEach((a, k) => {
    const name = pieLabels[k];
    const [lx, ly] = labelPos[name];
    labels.push({x: lx, y: ly, text: piePct[k].toFixed(2) + "%\n" + name});
    if (leaderEnd[name]) {
      const mid = (a.startAngle + a.endAngle) / 2, r = leaderR[name];
      links.push({x1: r * Math.sin(mid), y1: r * Math.cos(mid), x2: leaderEnd[name][0], y2: leaderEnd[name][1]});
    }
  });
  marks.push(Plot.link(links, {x1: "x1", y1: "y1", x2: "x2", y2: "y2", stroke: "#222", strokeWidth: 0.8}));
  marks.push(Plot.text(labels, {x: "x", y: "y", text: "text", fontSize: 12, lineHeight: 1.08, lineAnchor: "middle", textAnchor: "middle", fill: "#111"}));
  marks.push(Plot.text([pieTitle], {text: d => d, frameAnchor: "top", lineAnchor: "middle", textAnchor: "middle", dx: 18, dy: 15, fontSize: 12}));
  const R = 84.5, cx = 210.5, cy = 130.5, W = 320, H = 225;
  return Plot.plot({
    width: W, height: H, margin: 0,
    style: baseStyle("12px"),
    x: {domain: [-cx / R, (W - cx) / R], axis: null},
    y: {domain: [-(H - cy) / R, cy / R], axis: null},
    marks
  });
}

// ---------------- BUILD ----------------
place(forest({labels: aLabels, est: aEst, lo: aLow, hi: aHigh, xDomain: [-3.05, 7.6], xTicks: [-2, 0, 2, 4, 6],
  width: 330, height: 160, ml: 150.7, mr: 27, mt: 8.6, mb: 43.6, r: 2.3, cap: 0.13, xPad: 4, yPad: 4,
  title: "Log\u2082 odds ratio", titleDy: 26, titleDx: -5}), 0, 0, 330);

place(forest({labels: bPolLabels, est: bPolEst, lo: bPolLow, hi: bPolHigh, xDomain: [-0.146, 2.73], xTicks: [0, 1, 2],
  width: 330, height: 95, ml: 172, mr: 14, mt: 12.2, mb: 25.2, r: 1.7, cap: 0.15, xPad: 2, yPad: 3}), 320, 0, 330);

place(forest({labels: bHisLabels, est: bHisEst, lo: bHisLow, hi: bHisHigh, xDomain: [-3.21, 3.40], xTicks: [-2, 0, 2],
  width: 330, height: 225, ml: 171.7, mr: 4, mt: 13.75, mb: 38.75, r: 1.7, cap: 0.15, xPad: 2, yPad: 3,
  title: "Log\u2082 odds ratio", titleDy: 23.5, titleDx: 1}), 320, 95, 330);

place(pieChart(), 0, 170, 320);

place(scatter({pts: dLeftPts, xDomain: [-2.167, 1.83], yDomain: [-2.075, 1.605], xTicks: [-2, -1, 0, 1], yTicks: [-2, -1, 0, 1],
  width: 325, height: 250, ml: 57.3, mr: 4, mt: 21.7, mb: 36.7, xLabel: "Txn-QTL effect size (4sU 30min)", yLabel: "eQTL effect size",
  xTitleDy: 24, yTitleDx: -21, r2: r2Values.dLeft}), 0, 390, 325);

place(scatter({pts: dRightPts, xDomain: [-2.28, 3.3], yDomain: [-2.40, 2.28], xTicks: [-2, -1, 0, 1, 2, 3], yTicks: [-2, -1, 0, 1, 2],
  width: 325, height: 250, ml: 59, mr: 2.3, mt: 21.7, mb: 35.7, xLabel: "Txn-QTL effect size (4sU 60min)", yLabel: "eQTL effect size",
  xTitleDy: 23.5, yTitleDx: -24, r2: r2Values.dRight}), 325, 390, 325);

place(scatter({pts: eLeftPts, xDomain: [-2.17, 1.82], yDomain: [-1.995, 1.70], xTicks: [-2, -1, 0, 1], yTicks: [-2, -1, 0, 1],
  width: 325, height: 250, ml: 57.7, mr: 4, mt: 21.7, mb: 35.7, xLabel: "Txn-QTL effect size (4sU 30min)", yLabel: "Protein-QTL effect size",
  xTitleDy: 26.5, yTitleDx: -22, r2: r2Values.eLeft}), 0, 650, 325);

place(scatter({pts: eRightPts, xDomain: [-2.5, 3.32], yDomain: [-2.01, 1.69], xTicks: [-2, -1, 0, 1, 2, 3], yTicks: [-2, -1, 0, 1],
  width: 325, height: 250, ml: 57.3, mr: 1.7, mt: 21.7, mb: 35, xLabel: "Txn-QTL effect size (4sU 60min)", yLabel: "Protein-QTL effect size",
  xTitleDy: 26.5, yTitleDx: -23.5, r2: r2Values.eRight}), 325, 650, 325);

letter("a", 0, 0);
letter("b", 333, 0);
letter("c", 1, 172);
letter("d", 0, 402);
letter("e", 0, 655);
</script></body></html>
